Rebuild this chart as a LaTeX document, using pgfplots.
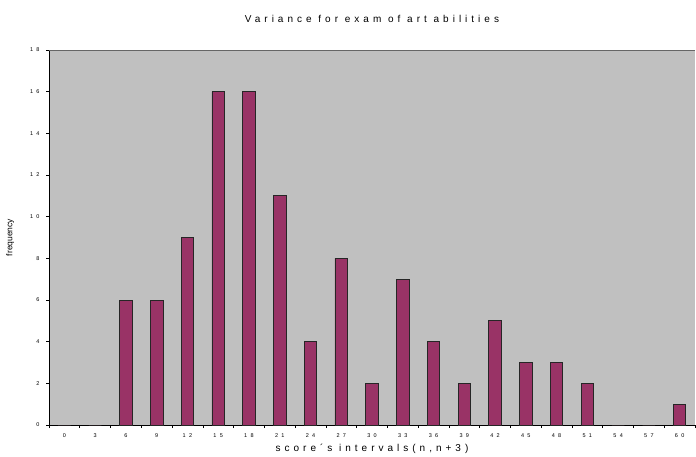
\documentclass[border=0pt]{standalone}
\usepackage{fontspec}
\setmainfont{Liberation Sans}
\newfontfamily\spaced[LetterSpace=40]{Liberation Sans}
\newfontfamily\tickf[LetterSpace=60]{Liberation Sans}
\usepackage{pgfplots}
\pgfplotsset{compat=1.18}
\definecolor{barc}{HTML}{993366}
\definecolor{bgc}{HTML}{C0C0C0}
\begin{document}
\begin{tikzpicture}
\useasboundingbox (0pt,0pt) rectangle (696pt,456pt);
\begin{axis}[
  at={(49pt,31pt)}, anchor=south west,
  width=646pt, height=375pt, scale only axis,
  ymin=0, ymax=18, xmin=-0.5, xmax=20.5,
  ytick={0,2,...,18},
  xtick={0,...,20},
  xticklabels={0,3,6,9,12,15,18,21,24,27,30,33,36,39,42,45,48,51,54,57,60},
  minor xtick={-0.5,0.5,...,20.5},
  major x tick style={draw=none},
  minor tick length=3pt, major tick length=3pt,
  tick align=outside,
  tick style={black, line width=0.6pt},
  axis x line*=bottom, axis y line*=left,
  axis line style={black, line width=0.8pt, -},
  axis background/.style={fill=bgc},
  ticklabel style={font=\tickf\fontsize{5.5}{6}\selectfont},
  /pgf/number format/assume math mode=true,
  xticklabel style={yshift=-2pt},
  yticklabel style={xshift=-3pt},
  ybar, bar width=12.5pt,
  title={\spaced\fontsize{10}{12}\selectfont Variance for exam of art abilities},
  title style={yshift=18pt},
  xlabel={\spaced\fontsize{10}{12}\selectfont score\textasciiacute s intervals(n,n+3)},
  xlabel style={yshift=0pt},
  ylabel={\fontsize{8.5}{10}\selectfont frequency},
  ylabel style={yshift=9pt},
]
\addplot[fill=barc, draw=black!85, line width=0.8pt] coordinates {
(0,0) (1,0) (2,6) (3,6) (4,9) (5,16) (6,16) (7,11) (8,4) (9,8) (10,2)
(11,7) (12,4) (13,2) (14,5) (15,3) (16,3) (17,2) (18,0) (19,0) (20,1)};
\draw[gray!80!black, line width=0.8pt] (rel axis cs:0,1) -- (rel axis cs:1,1);
\end{axis}
\end{tikzpicture}
\end{document}
